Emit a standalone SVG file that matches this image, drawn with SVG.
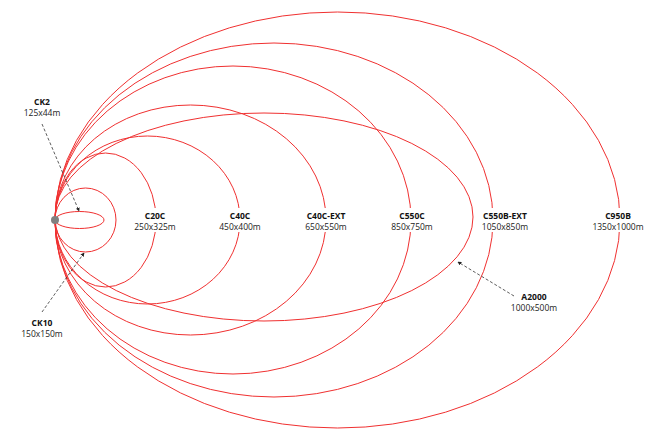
<svg xmlns="http://www.w3.org/2000/svg" width="651" height="446" viewBox="0 0 651 446">
<style>
.e{fill:none;stroke:#f03030;stroke-width:1}
.n{font-family:"Open Sans","DejaVu Sans",sans-serif;font-size:8.5px;font-weight:bold;fill:#111;text-anchor:middle}
.d{font-family:"Open Sans","DejaVu Sans",sans-serif;font-size:8.5px;fill:#222;text-anchor:middle}
.c{stroke:#333;stroke-width:0.8;stroke-dasharray:3,2;fill:none;marker-end:url(#a)}
</style>
<defs><marker id="a" viewBox="0 0 6 6" refX="5" refY="3" markerWidth="5" markerHeight="5" orient="auto"><path d="M0,0L6,3L0,6z" fill="#222"/></marker></defs>
<rect width="651" height="446" fill="#fff"/>
<g id="C950B"><ellipse class="e" cx="337.5" cy="220" rx="282.5" ry="208"/><rect x="588" y="208" width="60" height="24" fill="#fff"/><text class="n" x="618" y="219">C950B</text><text class="d" x="618" y="230">1350x1000m</text></g>
<g id="C550B-EXT"><ellipse class="e" cx="274" cy="220" rx="219" ry="177"/><rect x="478" y="208" width="54" height="24" fill="#fff"/><text class="n" x="505" y="219">C550B-EXT</text><text class="d" x="505" y="230">1050x850m</text></g>
<g id="A2000"><ellipse class="e" cx="264" cy="217" rx="209" ry="104"/><text class="n" x="534" y="300">A2000</text><text class="d" x="534" y="311">1000x500m</text></g>
<g id="C550C"><ellipse class="e" cx="233" cy="220" rx="178" ry="154"/><rect x="390" y="208" width="44" height="24" fill="#fff"/><text class="n" x="412" y="219">C550C</text><text class="d" x="412" y="230">850x750m</text></g>
<g id="C40C-EXT"><ellipse class="e" cx="190.5" cy="220" rx="135.5" ry="115"/><rect x="303" y="208" width="46" height="24" fill="#fff"/><text class="n" x="326" y="219">C40C-EXT</text><text class="d" x="326" y="230">650x550m</text></g>
<g id="C40C"><ellipse class="e" cx="147.5" cy="220" rx="92.5" ry="84"/><rect x="218" y="208" width="44" height="24" fill="#fff"/><text class="n" x="240" y="219">C40C</text><text class="d" x="240" y="230">450x400m</text></g>
<g id="C20C"><ellipse class="e" cx="105.5" cy="220" rx="50.5" ry="67"/><rect x="134" y="208" width="44" height="24" fill="#fff"/><text class="n" x="155" y="219">C20C</text><text class="d" x="155" y="230">250x325m</text></g>
<g id="CK10"><ellipse class="e" cx="85.5" cy="220" rx="30.5" ry="32"/><text class="n" x="42" y="326">CK10</text><text class="d" x="42" y="337">150x150m</text></g>
<g id="CK2"><ellipse class="e" cx="79.5" cy="220" rx="24.5" ry="8.5"/><text class="n" x="42" y="105">CK2</text><text class="d" x="42" y="116">125x44m</text></g>
<g id="origin"><circle cx="55" cy="220" r="4" fill="#808080"/></g>
<g id="connectors">
<path class="c" d="M42,124L79,211"/>
<path class="c" d="M42,312L84,253"/>
<path class="c" d="M514,296L458,262"/>
</g>
</svg>
